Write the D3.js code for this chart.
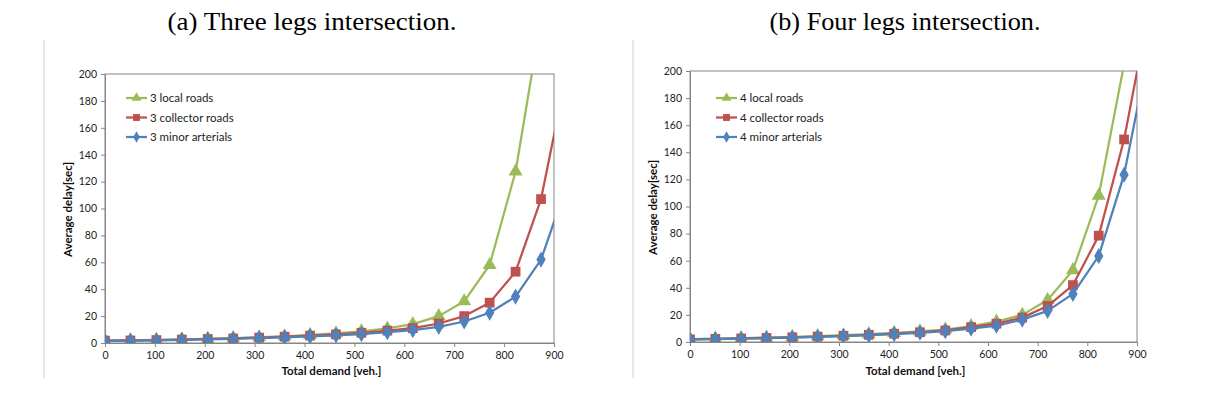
<!DOCTYPE html>
<html><head><meta charset="utf-8">
<script src="https://cdn.jsdelivr.net/npm/d3@7"></script>
<style>
html,body{margin:0;padding:0;background:#fff;}
svg{display:block;}
</style></head>
<body>
<svg id="chart" width="1206" height="407"></svg>
<script>
// ---- data ----
const demand = [0,51,103,154,206,257,309,360,411,463,514,566,617,669,720,771,823,874,926];
const xTicks = [0,100,200,300,400,500,600,700,800,900];
const yTicks = [0,20,40,60,80,100,120,140,160,180,200];

const threeLocal     = [1.8,2.0,2.3,2.7,3.1,3.6,4.3,5.0,6.0,7.2,8.7,10.8,14,20,31,58,127.5,241];
const threeCollector = [1.8,1.9,2.2,2.6,3.0,3.4,4.0,4.7,5.5,6.4,7.6,9.2,11,14.5,20,30,53,107,202];
const threeMinor     = [1.6,1.8,2.0,2.4,2.7,3.1,3.6,4.2,4.9,5.7,6.6,8.0,9.6,12,16,22.5,34.5,62,118];

const fourLocal      = [2.2,2.5,2.8,3.2,3.7,4.3,5.0,5.8,6.7,7.8,9.2,11.8,15,20,31,53,108,205];
const fourCollector  = [2.0,2.3,2.6,3.0,3.5,4.0,4.6,5.3,6.1,7.2,8.5,11,13.5,18,26.5,42,78.5,149.5,249];
const fourMinor      = [1.9,2.1,2.4,2.8,3.2,3.7,4.3,5.0,5.8,6.8,8.0,9.8,12,16.5,23,35.5,63.5,123.5,219];

const titles = ["(a) Three legs intersection.", "(b) Four legs intersection."];
const xTitle = "Total demand [veh.]";
const yTitle = "Average delay[sec]";

const colors = {local:"#9BBB59", collector:"#C0504D", minor:"#4F81BD"};

const panels = [
  {title:titles[0], tx:312, tw:289, frameX:44, left:105, right:554, top:74, bottom:343, legX:126, legText:150,
   series:[{name:"3 local roads",key:"local",sym:d3.symbolTriangle,vals:threeLocal},
           {name:"3 collector roads",key:"collector",sym:d3.symbolSquare,vals:threeCollector},
           {name:"3 minor arterials",key:"minor",sym:d3.symbolDiamond,vals:threeMinor}]},
  {title:titles[1], tx:905, tw:271, frameX:633, left:690, right:1137, top:71, bottom:342, legX:716, legText:740,
   series:[{name:"4 local roads",key:"local",sym:d3.symbolTriangle,vals:fourLocal},
           {name:"4 collector roads",key:"collector",sym:d3.symbolSquare,vals:fourCollector},
           {name:"4 minor arterials",key:"minor",sym:d3.symbolDiamond,vals:fourMinor}]}
];

const svg = d3.select("#chart");
const font = "Lato, 'Open Sans', sans-serif";
const symSize = {local:85, collector:95, minor:75};

panels.forEach((p, pi) => {
  // subfigure caption
  svg.append("text").attr("x", p.tx).attr("y", 30)
    .attr("text-anchor","middle")
    .attr("font-family","'Liberation Serif'")
    .attr("font-size", 25).attr("fill","#000")
    .attr("textLength", p.tw).attr("lengthAdjust","spacingAndGlyphs")
    .text(p.title);

  // left frame line
  svg.append("line").attr("x1",p.frameX).attr("x2",p.frameX).attr("y1",40).attr("y2",378)
    .attr("stroke","#d0d0d0").attr("stroke-width",1);

  const x = d3.scaleLinear().domain([0,900]).range([p.left,p.right]);
  const y = d3.scaleLinear().domain([0,200]).range([p.bottom,p.top]);

  const g = svg.append("g");
  g.append("rect").attr("x",p.left).attr("y",p.top).attr("width",p.right-p.left).attr("height",p.bottom-p.top)
    .attr("fill","none").attr("stroke","#868686").attr("stroke-width",1);

  const xAxis = g.append("g").attr("transform",`translate(0,${p.bottom})`)
    .call(d3.axisBottom(x).tickValues(xTicks).tickSize(4).tickPadding(5).tickSizeOuter(0));
  const yAxis = g.append("g").attr("transform",`translate(${p.left},0)`)
    .call(d3.axisLeft(y).tickValues(yTicks).tickSize(4).tickPadding(4).tickSizeOuter(0));
  [xAxis,yAxis].forEach(a=>{
    a.select(".domain").attr("stroke","#868686");
    a.selectAll(".tick line").attr("stroke","#868686");
    a.selectAll(".tick text").attr("font-family",font).attr("font-size",10.5).attr("fill","#222");
  });

  // axis titles
  g.append("text").attr("x",(p.left+p.right)/2 + 2).attr("y",375)
    .attr("text-anchor","middle").attr("font-family",font).attr("font-weight","bold")
    .attr("font-size",11.5).attr("fill","#111").text(xTitle);
  g.append("text").attr("transform",`translate(${p.left-33},${(p.top+p.bottom)/2 + 1}) rotate(-90)`)
    .attr("text-anchor","middle").attr("font-family",font).attr("font-weight","bold")
    .attr("font-size",11.5).attr("fill","#111").text(yTitle);

  const cid = "clip"+pi;
  svg.append("clipPath").attr("id",cid).append("rect")
    .attr("x",p.left).attr("y",p.top).attr("width",p.right-p.left).attr("height",p.bottom-p.top);
  const plot = g.append("g").attr("clip-path",`url(#${cid})`);

  const line = d3.line().x((d,i)=>x(demand[i])).y(d=>y(d));
  p.series.forEach(s=>{
    plot.append("path").datum(s.vals).attr("d",line)
      .attr("fill","none").attr("stroke",colors[s.key]).attr("stroke-width",2.25)
      .attr("stroke-linejoin","round");
    plot.selectAll(null).data(s.vals).enter().append("path")
      .attr("transform",(d,i)=>`translate(${x(demand[i])},${y(d)})`)
      .attr("d",d3.symbol().type(s.sym).size(symSize[s.key]))
      .attr("fill",colors[s.key]);
  });

  const ly = [98,117.5,137];
  p.series.forEach((s,i)=>{
    const lg = g.append("g");
    lg.append("line").attr("x1",p.legX).attr("x2",p.legX+21).attr("y1",ly[i]).attr("y2",ly[i])
      .attr("stroke",colors[s.key]).attr("stroke-width",2.25);
    lg.append("path").attr("transform",`translate(${p.legX+10.5},${ly[i]})`)
      .attr("d",d3.symbol().type(s.sym).size(symSize[s.key]*0.5)).attr("fill",colors[s.key]);
    lg.append("text").attr("x",p.legText).attr("y",ly[i]).attr("dy","0.35em")
      .attr("font-family",font).attr("font-size",11.5).attr("fill","#222").text(s.name);
  });
});
</script>
</body></html>
